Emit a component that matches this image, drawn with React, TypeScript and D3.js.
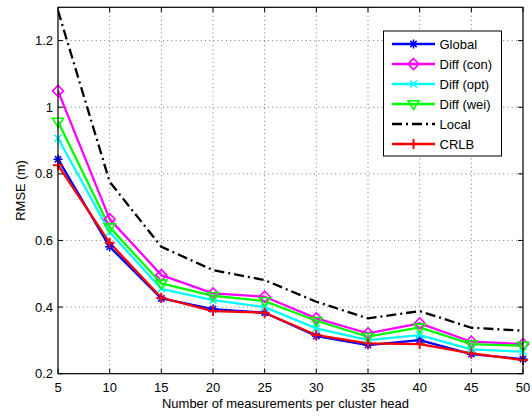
import React from "react";
import * as d3 from "d3";

const xValues = [5, 10, 15, 20, 25, 30, 35, 40, 45, 50];
const globalVals = [0.844, 0.581, 0.426, 0.394, 0.383, 0.313, 0.286, 0.301, 0.259, 0.244];
const diffCon = [1.049, 0.664, 0.496, 0.441, 0.431, 0.366, 0.321, 0.351, 0.296, 0.289];
const diffOpt = [0.907, 0.625, 0.455, 0.421, 0.4, 0.336, 0.301, 0.316, 0.273, 0.266];
const diffWei = [0.957, 0.64, 0.471, 0.434, 0.418, 0.359, 0.311, 0.339, 0.289, 0.284];
const localVals = [1.29, 0.776, 0.581, 0.511, 0.481, 0.416, 0.366, 0.388, 0.338, 0.329];
const crlb = [0.826, 0.593, 0.428, 0.388, 0.383, 0.316, 0.291, 0.289, 0.261, 0.241];

const xTicks = [5, 10, 15, 20, 25, 30, 35, 40, 45, 50];
const yTicks = [0.2, 0.4, 0.6, 0.8, 1, 1.2];

type Marker = "star" | "diamond" | "x" | "tri" | "none" | "plus";
const seriesList: { name: string; values: number[]; color: string; marker: Marker; dash?: string }[] = [
  { name: "Global", values: globalVals, color: "#0000ff", marker: "star" },
  { name: "Diff (con)", values: diffCon, color: "#ff00ff", marker: "diamond" },
  { name: "Diff (opt)", values: diffOpt, color: "#00ffff", marker: "x" },
  { name: "Diff (wei)", values: diffWei, color: "#00ff00", marker: "tri" },
  { name: "Local", values: localVals, color: "#000000", marker: "none", dash: "10,4,2,4" },
  { name: "CRLB", values: crlb, color: "#ff0000", marker: "plus" },
];

const W = 532, H = 417;
const L = 58, R = 523, T = 7.3, B = 373.7;
const font = "'Liberation Sans', Arial, Helvetica, sans-serif";

function MarkerShape({ kind, x, y, color }: { kind: Marker; x: number; y: number; color: string }) {
  const sw = 1.6;
  if (kind === "star") {
    const s = 4.5;
    return (
      <g stroke={color} strokeWidth={sw} fill="none">
        <line x1={x - s} y1={y} x2={x + s} y2={y} />
        <line x1={x} y1={y - s} x2={x} y2={y + s} />
        <line x1={x - s * 0.7} y1={y - s * 0.7} x2={x + s * 0.7} y2={y + s * 0.7} />
        <line x1={x - s * 0.7} y1={y + s * 0.7} x2={x + s * 0.7} y2={y - s * 0.7} />
      </g>
    );
  }
  if (kind === "plus") {
    const s = 5;
    return (
      <g stroke={color} strokeWidth={sw + 0.4} fill="none">
        <line x1={x - s} y1={y} x2={x + s} y2={y} />
        <line x1={x} y1={y - s} x2={x} y2={y + s} />
      </g>
    );
  }
  if (kind === "x") {
    const s = 3.5;
    return (
      <g stroke={color} strokeWidth={sw} fill="none">
        <line x1={x - s} y1={y - s} x2={x + s} y2={y + s} />
        <line x1={x - s} y1={y + s} x2={x + s} y2={y - s} />
      </g>
    );
  }
  if (kind === "diamond") {
    const s = 5.5;
    return (
      <path d={`M${x},${y - s}L${x + s},${y}L${x},${y + s}L${x - s},${y}Z`} stroke={color} strokeWidth={sw} fill="none" />
    );
  }
  if (kind === "tri") {
    const s = 5.5;
    return (
      <path d={`M${x - s},${y - s * 0.6}L${x + s},${y - s * 0.6}L${x},${y + s}Z`} stroke={color} strokeWidth={sw} fill="none" />
    );
  }
  return null;
}

export default function App() {
  const x = d3.scaleLinear().domain([5, 50]).range([L, R]);
  const y = d3.scaleLinear().domain([0.2, 1.3]).range([B, T]);
  const line = d3
    .line<number>()
    .x((_, i) => x(xValues[i]))
    .y((d) => y(d));

  const legendX = 383.5, legendY = 31, legendW = 118, legendH = 125;
  const entryY0 = 44, entryStep = 20;

  return (
    <svg width={W} height={H} style={{ position: "absolute", left: 0, top: 0, background: "#fff" }} fontFamily={font}>
      <rect x={0} y={0} width={W} height={H} fill="#fff" />
      <defs>
        <clipPath id="plotclip">
          <rect x={L} y={T} width={R - L} height={B - T} />
        </clipPath>
      </defs>
      {/* grid */}
      <g stroke="#555" strokeWidth={0.8} strokeDasharray="1,3.2">
        {xTicks.slice(1, -1).map((t) => (
          <line key={"gx" + t} x1={x(t)} x2={x(t)} y1={T} y2={B} />
        ))}
        {yTicks.slice(1).map((t) => (
          <line key={"gy" + t} x1={L} x2={R} y1={y(t)} y2={y(t)} />
        ))}
      </g>
      {/* ticks */}
      <g stroke="#000" strokeWidth={1}>
        {xTicks.map((t) => (
          <g key={"tx" + t}>
            <line x1={x(t)} x2={x(t)} y1={B} y2={B - 5} />
            <line x1={x(t)} x2={x(t)} y1={T} y2={T + 5} />
          </g>
        ))}
        {yTicks.map((t) => (
          <g key={"ty" + t}>
            <line x1={L} x2={L + 5} y1={y(t)} y2={y(t)} />
            <line x1={R} x2={R - 5} y1={y(t)} y2={y(t)} />
          </g>
        ))}
      </g>
      {/* series */}
      <g clipPath="url(#plotclip)">
        {seriesList.map((s) => (
          <path
            key={s.name}
            d={line(s.values) || ""}
            fill="none"
            stroke={s.color}
            strokeWidth={2.3}
            strokeDasharray={s.dash}
            strokeLinejoin="round"
          />
        ))}
      </g>
      {seriesList.map((s) => (
        <g key={"m" + s.name}>
          {s.values.map((v, i) => (
            <MarkerShape key={i} kind={s.marker} x={x(xValues[i])} y={y(v)} color={s.color} />
          ))}
        </g>
      ))}
      {/* axes box */}
      <rect x={L} y={T} width={R - L} height={B - T} fill="none" stroke="#000" strokeWidth={1.2} />
      {/* tick labels */}
      <g fontSize={13} fill="#000">
        {xTicks.map((t) => (
          <text key={"lx" + t} x={x(t)} y={391.5} textAnchor="middle">
            {t}
          </text>
        ))}
        {yTicks.map((t) => (
          <text key={"ly" + t} x={53} y={y(t) + 4.5} textAnchor="end">
            {t}
          </text>
        ))}
      </g>
      <text x={(L + R) / 2 - 5} y={407.5} textAnchor="middle" fontSize={13}>
        Number of measurements per cluster head
      </text>
      <text transform={`translate(25,${(T + B) / 2}) rotate(-90)`} textAnchor="middle" fontSize={13}>
        RMSE (m)
      </text>
      {/* legend */}
      <rect x={legendX} y={legendY} width={legendW} height={legendH} fill="#fff" stroke="#000" strokeWidth={1} />
      {seriesList.map((s, i) => {
        const ey = entryY0 + i * entryStep;
        return (
          <g key={"lg" + s.name}>
            <line x1={392} x2={435} y1={ey} y2={ey} stroke={s.color} strokeWidth={2.3} strokeDasharray={s.dash} />
            <MarkerShape kind={s.marker} x={413.5} y={ey} color={s.color} />
            <text x={439.5} y={ey + 4.5} fontSize={13}>
              {s.name}
            </text>
          </g>
        );
      })}
    </svg>
  );
}
